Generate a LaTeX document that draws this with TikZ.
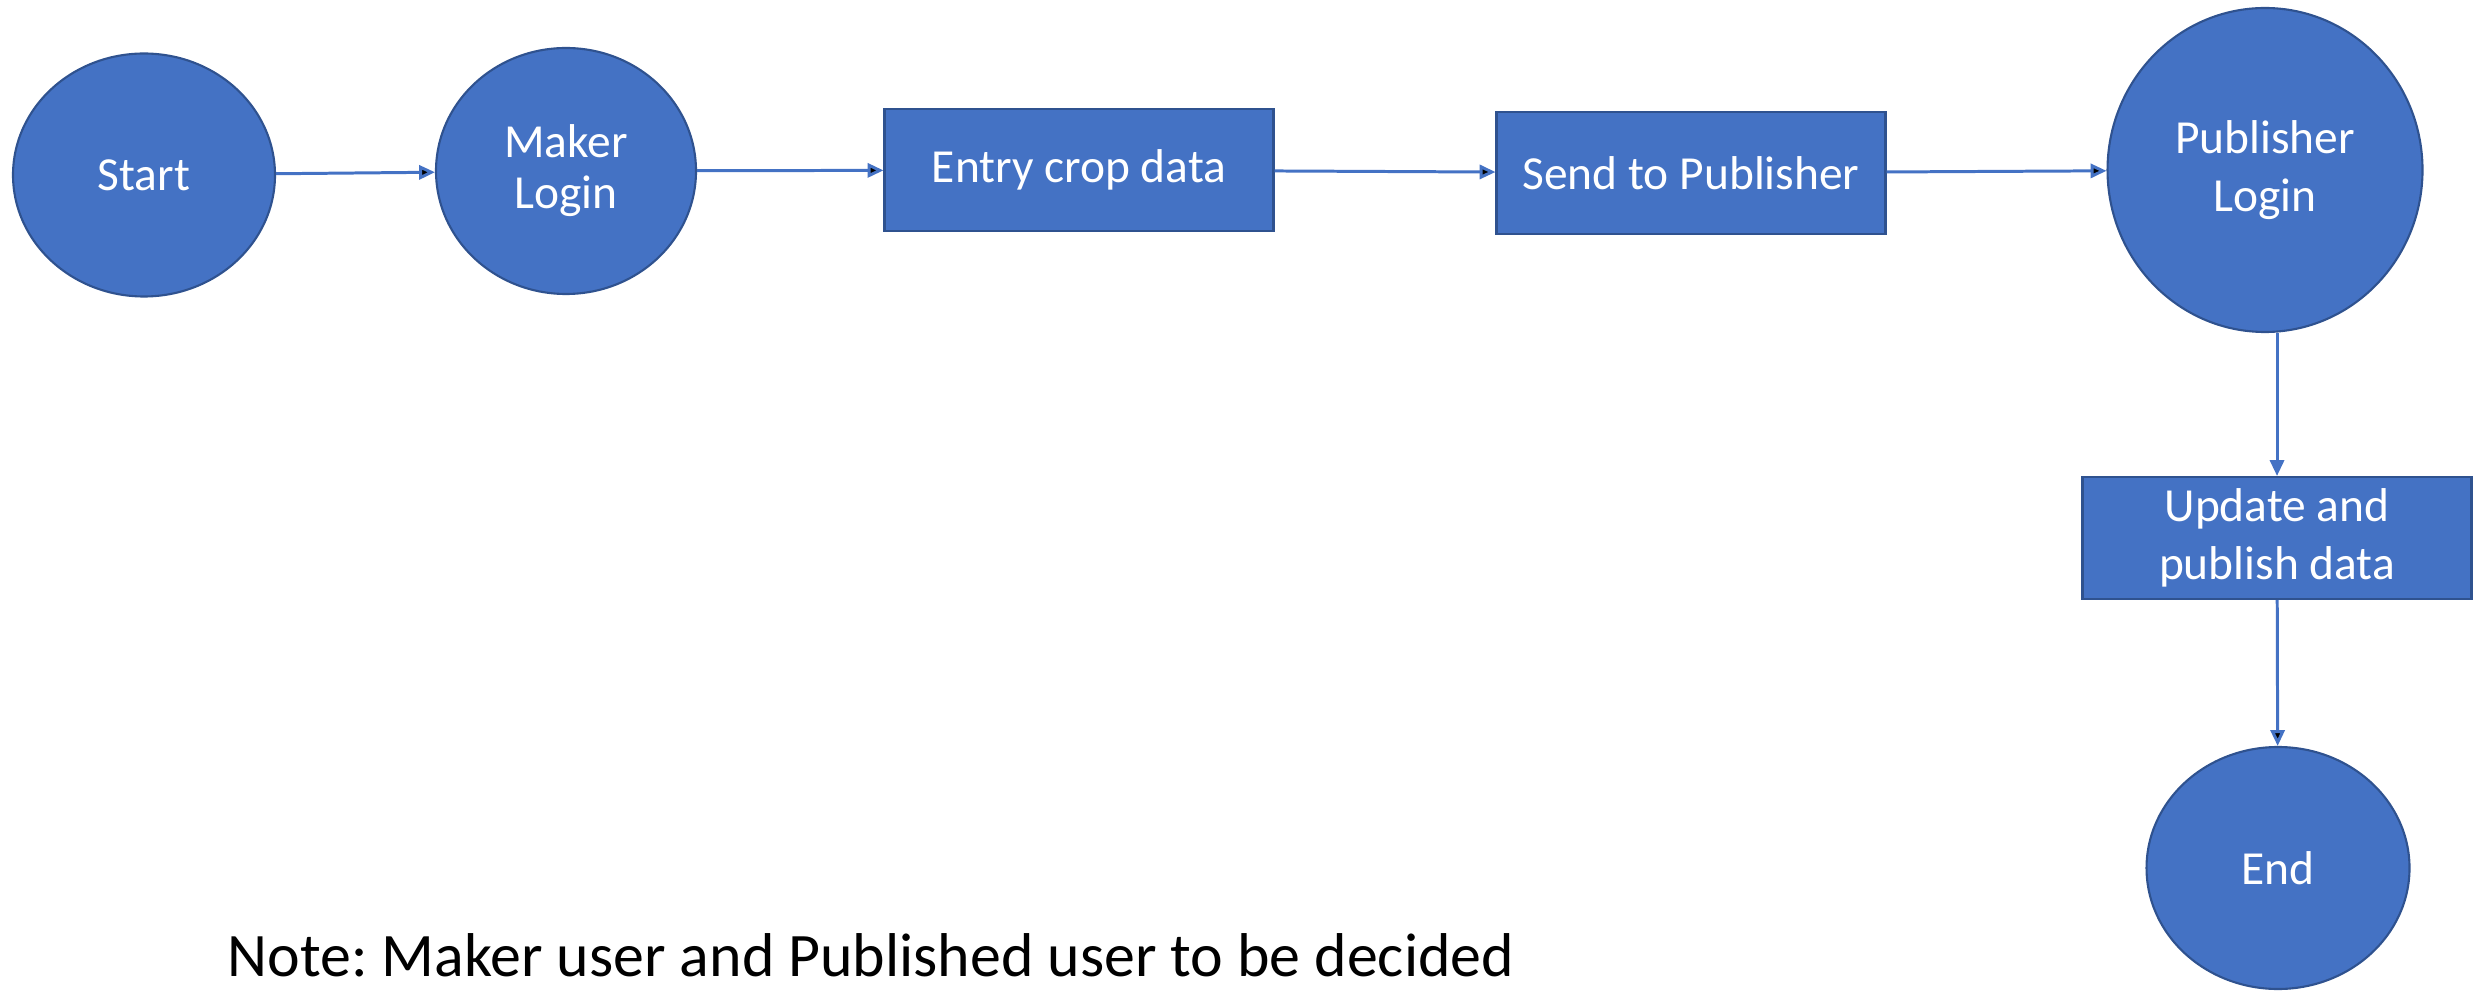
\documentclass[tikz,border=0pt]{standalone}
\usepackage{fontspec}
\setmainfont{Carlito}
\frenchspacing
\usetikzlibrary{shapes.geometric,arrows.meta}
\definecolor{boxblue}{HTML}{4472C4}
\definecolor{boxline}{HTML}{2F528F}
\begin{document}
\begin{tikzpicture}[
  every node/.style={font=\fontsize{13.5}{16.5}\selectfont, text=white, align=center, inner sep=0pt},
  oval/.style={ellipse, draw=boxline, line width=0.6pt, fill=boxblue},
  task/.style={rectangle, draw=boxline, line width=0.6pt, fill=boxblue, minimum width=3.89cm, minimum height=1.22cm},
  flow/.style={draw=boxblue, line width=0.85pt, -{Triangle[length=4.5pt,width=4pt]}}
]
\useasboundingbox (0,0) rectangle (24.78,-9.91);
\node[oval, minimum width=2.62cm, minimum height=2.43cm] (start) at (1.44,-1.75) {Start};
\node[oval, minimum width=2.60cm, minimum height=2.46cm] (maker) at (5.66,-1.71) {\raisebox{-2pt}{Maker}\\Login};
\node[task] (entry) at (10.79,-1.70) {Entry crop data};
\node[task] (send) at (16.91,-1.73) {Send to Publisher};
\node[oval, minimum width=3.15cm, minimum height=3.24cm] (pub) at (22.65,-1.70) {Publisher\\Login};
\node[task] (upd) at (22.77,-5.38) {Update and\\publish data};
\node[oval, minimum width=2.63cm, minimum height=2.42cm] (stop) at (22.78,-8.68) {End};
\draw[flow] (start) edge (maker);
\draw[flow] (maker) edge (entry);
\draw[flow] (entry) edge (send);
\draw[flow] (send) edge (pub);
\draw[flow] (pub.south -| upd.north) -- (upd.north);
\draw[flow] (upd) edge (stop);
% note below the flow
\node[text=black, font=\fontsize{17.6}{21}\selectfont] (note) at (8.71,-9.55) {Note: Maker user and Published user to be decided};
\end{tikzpicture}
\end{document}
